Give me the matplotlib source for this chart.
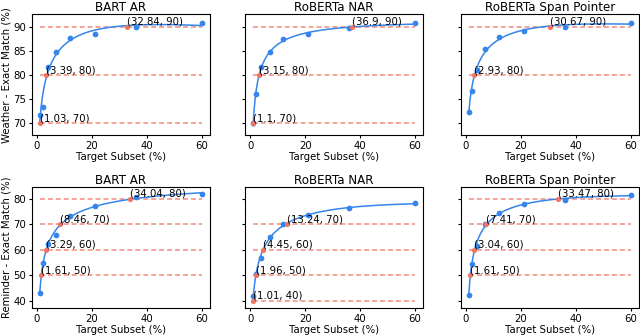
import numpy as np
import matplotlib
matplotlib.use("Agg")
import matplotlib.pyplot as plt

# ---- data ----
x_subset = [1, 2, 4, 7, 12, 21, 36, 60]
titles = ["BART AR", "RoBERTa NAR", "RoBERTa Span Pointer"]
row_labels = ["Weather - Exact Match (%)", "Reminder - Exact Match (%)"]

weather_bart = [71.7, 73.4, 81.7, 84.8, 87.6, 88.6, 90.0, 90.8]
weather_nar = [70.1, 76.0, 81.7, 84.8, 87.4, 88.5, 89.8, 90.7]
weather_span = [72.4, 76.7, 81.0, 85.4, 87.9, 89.1, 90.0, 90.9]

reminder_bart = [42.9, 54.8, 62.3, 66.0, 73.2, 77.4, 80.7, 82.0]
reminder_nar = [41.7, 50.3, 56.8, 65.2, 70.2, 73.7, 76.3, 78.3]
reminder_span = [42.4, 54.4, 61.5, 70.2, 74.4, 78.0, 79.6, 81.6]

weather_thr_bart = [70, 80, 90]
weather_cross_bart = [1.03, 3.39, 32.84]
weather_thr_nar = [70, 80, 90]
weather_cross_nar = [1.1, 3.15, 36.9]
weather_thr_span = [80, 90]
weather_cross_span = [2.93, 30.67]

reminder_thr_bart = [50, 60, 70, 80]
reminder_cross_bart = [1.61, 3.29, 8.46, 34.04]
reminder_thr_nar = [40, 50, 60, 70]
reminder_cross_nar = [1.01, 1.96, 4.45, 13.24]
reminder_thr_span = [50, 60, 70, 80]
reminder_cross_span = [1.61, 3.04, 7.41, 33.47]

panels = [
    [(weather_bart, weather_thr_bart, weather_cross_bart),
     (weather_nar, weather_thr_nar, weather_cross_nar),
     (weather_span, weather_thr_span, weather_cross_span)],
    [(reminder_bart, reminder_thr_bart, reminder_cross_bart),
     (reminder_nar, reminder_thr_nar, reminder_cross_nar),
     (reminder_span, reminder_thr_span, reminder_cross_span)],
]

row_ylim = [(67.6, 92.6), (37.1, 84.6)]
row_yticks = [[70, 75, 80, 85, 90], [40, 50, 60, 70, 80]]

BLUE = "#3585ea"
RED = "#f07565"
LINE_RED = "#f28a7c"

plt.rcParams['font.family'] = ['DejaVu Sans']
fig = plt.figure(figsize=(6.4, 3.36), dpi=100)

lefts = [31.7 / 640, 245 / 640, 460.7 / 640]
width = 178 / 640
bottoms = [1 - 135 / 336, 1 - 308 / 336]
height = 120.7 / 336

FS = 7.3

for r in range(2):
    for c in range(3):
        ax = fig.add_axes([lefts[c], bottoms[r], width, height])
        yvals, thr, cross = panels[r][c]
        xs = np.array(x_subset, dtype=float)
        ys = np.array(yvals, dtype=float)
        # fitted curve through measured points and crossing points
        fx = np.concatenate([xs, np.array(cross)])
        fy = np.concatenate([ys, np.array(thr, dtype=float)])
        coef = np.polyfit(np.log(fx), fy, 3)
        xx = np.linspace(min(x_subset), max(x_subset), 300)
        yy = np.polyval(coef, np.log(xx))

        for t in thr:
            ax.plot([min(x_subset), max(x_subset)], [t, t], color=LINE_RED,
                    lw=1.1, dashes=(3.2, 2.0), zorder=1)
        ax.scatter(xs, ys, s=17, color=BLUE, zorder=3, linewidths=0)
        ax.plot(xx, yy, color=BLUE, lw=1.1, zorder=2)
        ax.scatter(cross, thr, s=14, color=RED, zorder=4, linewidths=0)
        for xc, t in zip(cross, thr):
            ax.text(xc, t, f"({xc}, {t})", fontsize=FS, ha='left', va='bottom',
                    zorder=5)

        ax.set_xlim(-1.95, 62.95)
        ax.set_xticks([0, 20, 40, 60])
        ax.set_ylim(*row_ylim[r])
        ax.set_yticks(row_yticks[r])
        ax.tick_params(labelsize=FS, length=2.5, width=0.8, pad=1.5)
        if c != 0:
            ax.set_yticklabels([])
        else:
            ax.set_ylabel(row_labels[r], fontsize=FS, labelpad=1)
        ax.set_xlabel("Target Subset (%)", fontsize=FS, labelpad=1)
        ax.set_title(titles[c], fontsize=8.6, pad=2.5)
        for s in ax.spines.values():
            s.set_linewidth(0.8)

fig.savefig("out.png", dpi=100)
